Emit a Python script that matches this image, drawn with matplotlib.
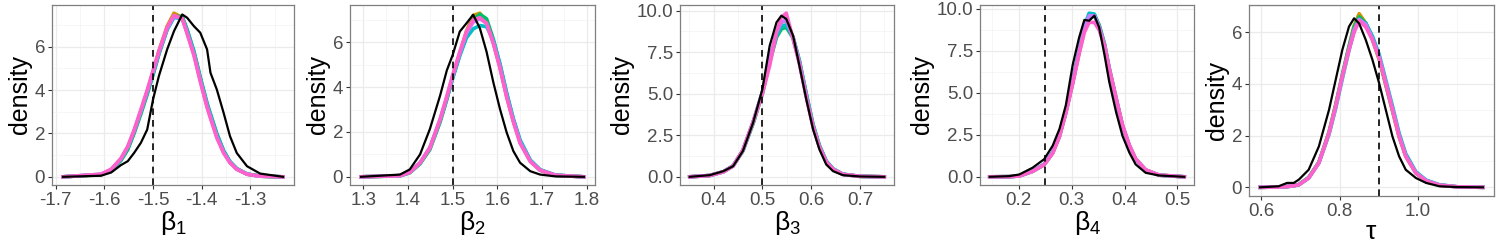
import matplotlib
matplotlib.use("Agg")
import matplotlib.pyplot as plt
from matplotlib.ticker import MultipleLocator, FormatStrFormatter

plt.rcParams['font.family'] = ['Liberation Sans', 'DejaVu Sans']
plt.rcParams['mathtext.fontset'] = 'custom'
plt.rcParams['mathtext.rm'] = 'Liberation Sans'
plt.rcParams['mathtext.it'] = 'Liberation Sans'
plt.rcParams['axes.unicode_minus'] = False

# chain colours (ggplot hue) + reference fit in black
chain_colors = ['#CD9600', '#00BE67', '#00BFC4', '#C77CFF', '#FF61CC']

# ---- beta_1 ----
x1 = [-1.685, -1.607, -1.586, -1.566, -1.552, -1.539, -1.525, -1.512, -1.5, -1.488, -1.471, -1.457, -1.44,
      -1.43, -1.416, -1.403, -1.389, -1.382, -1.369, -1.355, -1.342, -1.328, -1.307, -1.28, -1.233]
black1 = [0, 0.05, 0.2, 0.54, 0.72, 1.1, 1.57, 2.18, 3.57, 4.65, 5.88, 6.72, 7.49, 7.34, 6.95, 6.65, 5.88, 4.8,
          4.03, 2.95, 1.88, 1.1, 0.49, 0.15, 0]
orange1 = [0, 0.1, 0.3, 0.78, 1.3, 2.05, 3.0, 3.9, 4.85, 5.8, 6.95, 7.55, 7.35, 6.7, 5.7, 4.5, 3.3, 2.8, 1.9,
           1.15, 0.68, 0.36, 0.12, 0.03, 0]
green1 = [0, 0.1, 0.3, 0.75, 1.25, 2.0, 2.9, 3.8, 4.7, 5.65, 6.8, 7.4, 7.4, 6.8, 5.8, 4.6, 3.4, 2.9, 2.0, 1.2,
          0.7, 0.38, 0.13, 0.03, 0]
cyan1 = [0, 0.11, 0.32, 0.8, 1.35, 2.1, 3.0, 3.9, 4.75, 5.7, 6.8, 7.35, 7.3, 6.75, 5.75, 4.55, 3.35, 2.85, 1.95,
         1.2, 0.7, 0.37, 0.13, 0.03, 0]
purple1 = [0, 0.12, 0.34, 0.83, 1.38, 2.12, 3.05, 3.95, 4.85, 5.75, 6.85, 7.4, 7.3, 6.65, 5.65, 4.45, 3.25, 2.75,
           1.85, 1.12, 0.66, 0.35, 0.12, 0.03, 0]
pink1 = [0, 0.12, 0.35, 0.85, 1.4, 2.15, 3.1, 4.0, 4.9, 5.8, 6.9, 7.45, 7.3, 6.6, 5.6, 4.4, 3.2, 2.7, 1.8, 1.1,
         0.65, 0.35, 0.12, 0.03, 0]

# ---- beta_2 ----
x2 = [1.295, 1.382, 1.404, 1.427, 1.449, 1.472, 1.487, 1.5, 1.516, 1.531, 1.546, 1.561, 1.576, 1.591, 1.606,
      1.621, 1.636, 1.651, 1.674, 1.696, 1.73, 1.794]
black2 = [0, 0.1, 0.33, 1.0, 2.13, 3.63, 4.75, 5.43, 6.48, 6.85, 7.23, 6.63, 5.58, 4.23, 3.03, 1.98, 1.15, 0.63,
          0.25, 0.1, 0.02, 0]
orange2 = [0, 0.05, 0.19, 0.6, 1.25, 2.5, 3.5, 4.45, 5.5, 6.5, 7.2, 7.3, 6.9, 6.0, 4.9, 3.6, 2.5, 1.55, 0.7, 0.3,
           0.07, 0]
green2 = [0, 0.04, 0.18, 0.58, 1.22, 2.45, 3.45, 4.4, 5.45, 6.4, 7.0, 7.25, 7.05, 6.15, 5.0, 3.7, 2.55, 1.6, 0.72,
          0.3, 0.07, 0]
cyan2 = [0, 0.05, 0.2, 0.62, 1.3, 2.55, 3.5, 4.4, 5.4, 6.2, 6.6, 6.75, 6.7, 6.1, 5.05, 3.75, 2.6, 1.65, 0.75,
         0.32, 0.08, 0]
purple2 = [0, 0.05, 0.2, 0.62, 1.28, 2.55, 3.55, 4.5, 5.5, 6.4, 6.9, 7.05, 6.85, 6.0, 4.9, 3.6, 2.5, 1.55, 0.7,
           0.3, 0.07, 0]
pink2 = [0, 0.05, 0.2, 0.63, 1.3, 2.58, 3.6, 4.53, 5.58, 6.48, 7.0, 7.1, 6.85, 5.95, 4.85, 3.55, 2.45, 1.5, 0.68,
         0.29, 0.07, 0]

# ---- beta_3 ----
x3 = [0.351, 0.392, 0.420, 0.440, 0.460, 0.481, 0.5, 0.515, 0.529, 0.539, 0.549, 0.563, 0.576, 0.590, 0.604,
      0.617, 0.631, 0.645, 0.665, 0.70, 0.75]
black3 = [0, 0.1, 0.34, 0.64, 1.55, 3.26, 5.27, 7.89, 9.3, 9.7, 9.5, 8.49, 6.68, 4.67, 2.86, 1.65, 0.74, 0.34,
          0.1, 0.02, 0]
orange3 = [0, 0.08, 0.3, 0.66, 1.58, 3.25, 5.05, 7.0, 8.6, 9.3, 9.4, 8.4, 6.9, 4.9, 3.05, 1.82, 0.92, 0.46, 0.15,
           0.03, 0]
green3 = [0, 0.08, 0.3, 0.66, 1.55, 3.2, 5.0, 6.9, 8.4, 8.9, 9.0, 8.35, 6.95, 5.0, 3.15, 1.9, 0.95, 0.48, 0.16,
          0.03, 0]
cyan3 = [0, 0.08, 0.31, 0.67, 1.6, 3.3, 5.1, 7.0, 8.5, 9.05, 9.15, 8.4, 7.0, 5.0, 3.1, 1.85, 0.95, 0.47, 0.16,
         0.03, 0]
purple3 = [0, 0.08, 0.3, 0.65, 1.6, 3.3, 5.1, 7.1, 8.7, 9.3, 9.45, 8.35, 6.85, 4.85, 3.0, 1.8, 0.9, 0.45, 0.15,
           0.03, 0]
pink3 = [0, 0.08, 0.3, 0.65, 1.6, 3.3, 5.0, 6.7, 8.7, 9.6, 9.85, 8.3, 6.8, 4.8, 3.0, 1.8, 0.9, 0.45, 0.15, 0.03, 0]

# ---- beta_4 ----
x4 = [0.145, 0.182, 0.201, 0.226, 0.248, 0.264, 0.277, 0.289, 0.302, 0.314, 0.324, 0.333, 0.343, 0.352, 0.362,
      0.371, 0.384, 0.396, 0.409, 0.421, 0.44, 0.465, 0.513]
black4 = [0, 0.04, 0.14, 0.54, 1.05, 1.85, 2.86, 4.27, 6.68, 8.29, 9.35, 9.3, 9.6, 8.9, 7.28, 5.67, 3.86, 2.45,
          1.45, 0.74, 0.24, 0.08, 0]
orange4 = [0, 0.01, 0.05, 0.33, 0.73, 1.43, 2.43, 3.85, 5.65, 7.45, 8.8, 9.55, 9.6, 9.0, 7.9, 6.45, 4.65, 3.05,
           1.85, 1.05, 0.4, 0.1, 0]
green4 = [0, 0.01, 0.05, 0.32, 0.72, 1.42, 2.42, 3.82, 5.6, 7.4, 8.75, 9.5, 9.65, 9.05, 7.95, 6.5, 4.7, 3.08,
          1.86, 1.06, 0.41, 0.1, 0]
cyan4 = [0, 0.01, 0.06, 0.35, 0.76, 1.48, 2.5, 3.92, 5.75, 7.55, 9.0, 9.75, 9.7, 8.95, 7.8, 6.35, 4.6, 3.02,
         1.84, 1.04, 0.4, 0.1, 0]
purple4 = [0, 0.01, 0.05, 0.33, 0.74, 1.44, 2.45, 3.86, 5.65, 7.45, 8.85, 9.6, 9.6, 8.95, 7.85, 6.45, 4.65, 3.05,
           1.85, 1.05, 0.4, 0.1, 0]
pink4 = [0, 0.01, 0.05, 0.32, 0.72, 1.4, 2.4, 3.8, 5.55, 7.3, 8.6, 9.2, 9.2, 8.75, 7.8, 6.45, 4.7, 3.1, 1.9,
         1.08, 0.42, 0.11, 0]

# ---- tau ----
x5 = [0.597, 0.644, 0.666, 0.683, 0.696, 0.721, 0.747, 0.773, 0.790, 0.807, 0.824, 0.837, 0.850, 0.867, 0.884,
      0.901, 0.918, 0.935, 0.952, 0.969, 0.995, 1.021, 1.055, 1.10, 1.166]
black5 = [0, 0.04, 0.17, 0.17, 0.3, 0.68, 1.58, 3.0, 4.16, 5.32, 6.22, 6.54, 6.34, 5.7, 4.93, 4.03, 3.0, 1.97,
          1.2, 0.68, 0.36, 0.17, 0.04, 0.01, 0]
orange5 = [0, 0.01, 0.03, 0.06, 0.11, 0.38, 0.97, 2.15, 3.2, 4.35, 5.45, 6.25, 6.72, 6.35, 5.7, 4.95, 3.95, 2.95,
           1.95, 1.2, 0.55, 0.25, 0.08, 0.02, 0]
green5 = [0, 0.01, 0.03, 0.06, 0.11, 0.38, 0.97, 2.12, 3.18, 4.35, 5.45, 6.2, 6.6, 6.35, 5.75, 5.0, 4.0, 3.0, 2.0,
          1.22, 0.56, 0.26, 0.09, 0.02, 0]
cyan5 = [0, 0.01, 0.03, 0.06, 0.1, 0.36, 0.94, 2.05, 3.05, 4.2, 5.3, 6.05, 6.45, 6.35, 5.85, 5.15, 4.15, 3.15,
         2.1, 1.3, 0.6, 0.28, 0.1, 0.02, 0]
purple5 = [0, 0.01, 0.03, 0.06, 0.1, 0.36, 0.95, 2.1, 3.12, 4.28, 5.35, 6.08, 6.5, 6.3, 5.75, 5.05, 4.05, 3.05,
           2.0, 1.22, 0.56, 0.26, 0.09, 0.02, 0]
pink5 = [0, 0.01, 0.03, 0.06, 0.1, 0.36, 0.94, 2.1, 3.13, 4.29, 5.32, 6.0, 6.45, 6.2, 5.7, 5.0, 4.0, 3.0, 1.97,
         1.2, 0.55, 0.25, 0.08, 0.02, 0]

true_vals = [-1.5, 1.5, 0.5, 0.25, 0.9]
xlabels = [r'$\beta_1$', r'$\beta_2$', r'$\beta_3$', r'$\beta_4$', r'$\tau$']
xticks = [[-1.7, -1.6, -1.5, -1.4, -1.3], [1.3, 1.4, 1.5, 1.6, 1.7, 1.8], [0.4, 0.5, 0.6, 0.7],
          [0.2, 0.3, 0.4, 0.5], [0.6, 0.8, 1.0]]
yticks = [[0, 2, 4, 6], [0, 2, 4, 6], [0, 2.5, 5, 7.5, 10], [0, 2.5, 5, 7.5, 10], [0, 2, 4, 6]]
yfmt = ['%d', '%d', '%.1f', '%.1f', '%d']

panels = [
    (x1, [orange1, green1, cyan1, purple1, pink1], black1),
    (x2, [orange2, green2, cyan2, purple2, pink2], black2),
    (x3, [orange3, green3, cyan3, purple3, pink3], black3),
    (x4, [orange4, green4, cyan4, purple4, pink4], black4),
    (x5, [orange5, green5, cyan5, purple5, pink5], black5),
]

# axes boxes in pixels (left, top, right, bottom) on a 1500x250 canvas
boxes = [(52, 5, 294, 185), (350, 5, 595, 185), (680, 5, 894, 185), (980, 5, 1194, 185), (1249, 5, 1494, 196)]

fig = plt.figure(figsize=(15, 2.5), dpi=100)
for i, (xs, chains, blk) in enumerate(panels):
    l, t, r, b = boxes[i]
    ax = fig.add_axes([l / 1500, (250 - b) / 250, (r - l) / 1500, (b - t) / 250])
    for col, ys in zip(chain_colors, chains):
        ax.plot(xs, ys, color=col, lw=2.6, solid_joinstyle='round')
    ax.plot(xs, blk, color='black', lw=1.6, solid_joinstyle='round')
    ax.axvline(true_vals[i], color='black', lw=1.2, ls=(0, (4, 3)))

    ax.set_xticks(xticks[i])
    ax.set_yticks(yticks[i])
    ax.xaxis.set_minor_locator(MultipleLocator((xticks[i][1] - xticks[i][0]) / 2))
    ax.yaxis.set_minor_locator(MultipleLocator((yticks[i][1] - yticks[i][0]) / 2))
    ax.xaxis.set_major_formatter(FormatStrFormatter('%.1f'))
    ax.yaxis.set_major_formatter(FormatStrFormatter(yfmt[i]))
    ax.grid(which='major', color='#EBEBEB', lw=0.9)
    ax.grid(which='minor', color='#F3F3F3', lw=0.5)
    ax.set_axisbelow(True)
    for s in ax.spines.values():
        s.set_color('#7F7F7F')
        s.set_linewidth(0.9)
    ax.tick_params(which='major', length=3, width=0.8, color='#333333', labelsize=13.5,
                   labelcolor='#4D4D4D', pad=2)
    ax.tick_params(which='minor', length=0)
    ax.set_xlabel(xlabels[i], fontsize=19, labelpad=0)
    ax.set_ylabel('density', fontsize=18, labelpad=2)

fig.savefig('out.png', dpi=100)
